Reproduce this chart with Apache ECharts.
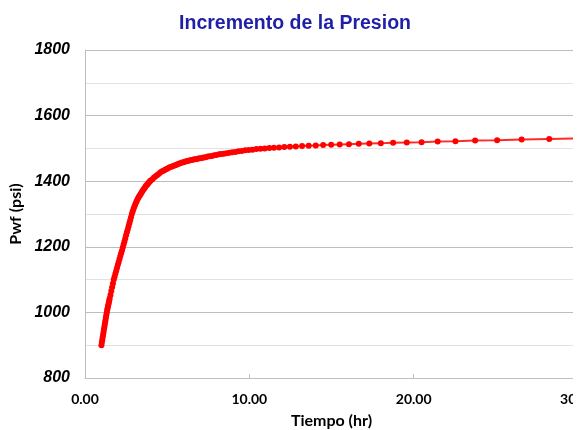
<!DOCTYPE html>
<html>
<head>
<meta charset="utf-8">
<script src="https://cdn.jsdelivr.net/npm/echarts@6/dist/echarts.min.js"></script>
<style>
  html, body { margin: 0; padding: 0; background: #fff; }
  #pwfChart { width: 573px; height: 430px; }
</style>
</head>
<body>
<div id="pwfChart"></div>
<script>
// tiempo (hr) (muy denso al principio)
const tiempo = [
  1.000, 1.025, 1.050, 1.075, 1.100, 1.125, 1.150, 1.175, 1.200, 1.225,
  1.250, 1.275, 1.300, 1.325, 1.350, 1.375, 1.400, 1.425, 1.450, 1.475,
  1.50, 1.55, 1.60, 1.65, 1.70, 1.75, 1.80, 1.85, 1.90, 1.95,
  2.00, 2.05, 2.10, 2.15, 2.20, 2.25, 2.30, 2.35, 2.40, 2.45,
  2.50, 2.55, 2.60, 2.65, 2.70, 2.75, 2.80, 2.85, 2.90, 2.95,
  3.00, 3.05, 3.10, 3.15, 3.20, 3.25, 3.30, 3.35, 3.40, 3.45,
  3.50, 3.55, 3.60, 3.65, 3.70, 3.75, 3.80, 3.85, 3.90, 3.95,
  4.00, 4.10, 4.20, 4.30, 4.40, 4.50, 4.60, 4.70, 4.80, 4.90,
  5.00, 5.10, 5.20, 5.30, 5.40, 5.50, 5.60, 5.70, 5.80, 5.90,
  6.00, 6.10, 6.20, 6.30, 6.40, 6.50, 6.60, 6.70, 6.80, 6.90,
  7.00, 7.11, 7.22, 7.34, 7.46, 7.59, 7.72, 7.86, 8.00, 8.15,
  8.30, 8.45, 8.62, 8.79, 8.96, 9.15, 9.34, 9.54, 9.75, 9.96,
  10.19, 10.43, 10.68, 10.94, 11.22, 11.50, 11.81, 12.13, 12.47, 12.83,
  13.21, 13.61, 14.04, 14.49, 14.98, 15.50, 16.06, 16.66, 17.30, 18.00,
  18.75, 19.58, 20.48, 21.46, 22.54, 23.74, 25.08, 26.57, 28.25, 30.17
];
// Pwf (psi)
const pwf = [
  900, 908, 916, 924, 931, 939, 947, 955, 962, 970,
  977, 985, 993, 1000, 1007, 1013, 1019, 1025, 1030, 1036,
  1042, 1053, 1065, 1077, 1088, 1100, 1109, 1118, 1127, 1136,
  1145, 1154, 1163, 1172, 1180, 1189, 1198, 1207, 1216, 1225,
  1235, 1244, 1253, 1263, 1272, 1281, 1290, 1300, 1308, 1315,
  1322, 1328, 1334, 1340, 1345, 1350, 1354, 1358, 1362, 1366,
  1370, 1374, 1378, 1381, 1385, 1388, 1391, 1394, 1397, 1400,
  1402, 1406, 1411, 1415, 1419, 1423, 1427, 1430, 1433, 1436,
  1438, 1441, 1443, 1445, 1447, 1449, 1451, 1453, 1455, 1457,
  1458, 1460, 1461, 1462, 1464, 1465, 1466, 1467, 1468, 1469,
  1470, 1471, 1472, 1473, 1475, 1476, 1477, 1479, 1480, 1482,
  1483, 1484, 1485, 1487, 1488, 1489, 1491, 1492, 1494, 1495,
  1496, 1498, 1499, 1500, 1501, 1502, 1503, 1504, 1505, 1506,
  1507, 1508, 1509, 1510, 1511, 1512, 1513, 1514, 1515, 1516,
  1517, 1518, 1519, 1521, 1522, 1524, 1525, 1527, 1529, 1531
];
const yTicks = [800, 1000, 1200, 1400, 1600, 1800];

let myChart = echarts.init(document.getElementById("pwfChart"));
let options = {
  animation: false,
  title: {
    text: "Incremento de la Presion",
    left: 290,
    textAlign: "center",
    top: 9,
    textStyle: {
      fontFamily: "Liberation Sans",
      fontSize: 19.5,
      fontWeight: "bold",
      color: "#1f1fa8",
    },
  },
  grid: {
    left: 85,
    right: -5,
    top: 50,
    bottom: 52,
    outerBoundsMode: "none",
  },
  xAxis: {
    type: "value",
    min: 0,
    max: 30,
    interval: 10,
    name: "Tiempo (hr)",
    nameLocation: "middle",
    nameGap: 35,
    nameTextStyle: {
      fontFamily: "Lato",
      fontWeight: "bold",
      fontSize: 16,
      color: "#000",
    },
    axisLine: { lineStyle: { color: "#bfbfbf" } },
    axisTick: { inside: true, length: 4, lineStyle: { color: "#bfbfbf" } },
    splitLine: { show: false },
    axisLabel: {
      margin: 14,
      fontFamily: "Lato",
      fontWeight: "bold",
      fontSize: 14,
      color: "#000",
      showMaxLabel: true,
      formatter: (v) => v.toFixed(2),
    },
  },
  yAxis: {
    type: "value",
    min: 800,
    max: 1800,
    interval: 100,
    name: "Pwf (psi)",
    nameLocation: "middle",
    nameGap: 54,
    nameTextStyle: {
      fontFamily: "Lato",
      fontWeight: "bold",
      fontSize: 16,
      color: "#000",
    },
    axisLine: { show: true, lineStyle: { color: "#bfbfbf" } },
    axisTick: { show: false },
    splitLine: {
      lineStyle: { color: ["#bdbdbd", "#e2e2e2"], width: 1 },
    },
    axisLabel: {
      margin: 15,
      fontFamily: "Liberation Sans",
      fontStyle: "italic",
      fontWeight: "bold",
      fontSize: 16,
      color: "#000",
      formatter: (v) => (yTicks.indexOf(v) >= 0 ? String(v) : ""),
    },
  },
  series: [
    {
      type: "line",
      data: tiempo.map((t, i) => [t, pwf[i]]),
      clip: true,
      symbol: "circle",
      symbolSize: 6,
      showSymbol: true,
      lineStyle: { color: "#ff2a2a", width: 2 },
      itemStyle: { color: "#ff0000" },
    },
  ],
};
myChart.setOption(options);
</script>
</body>
</html>
